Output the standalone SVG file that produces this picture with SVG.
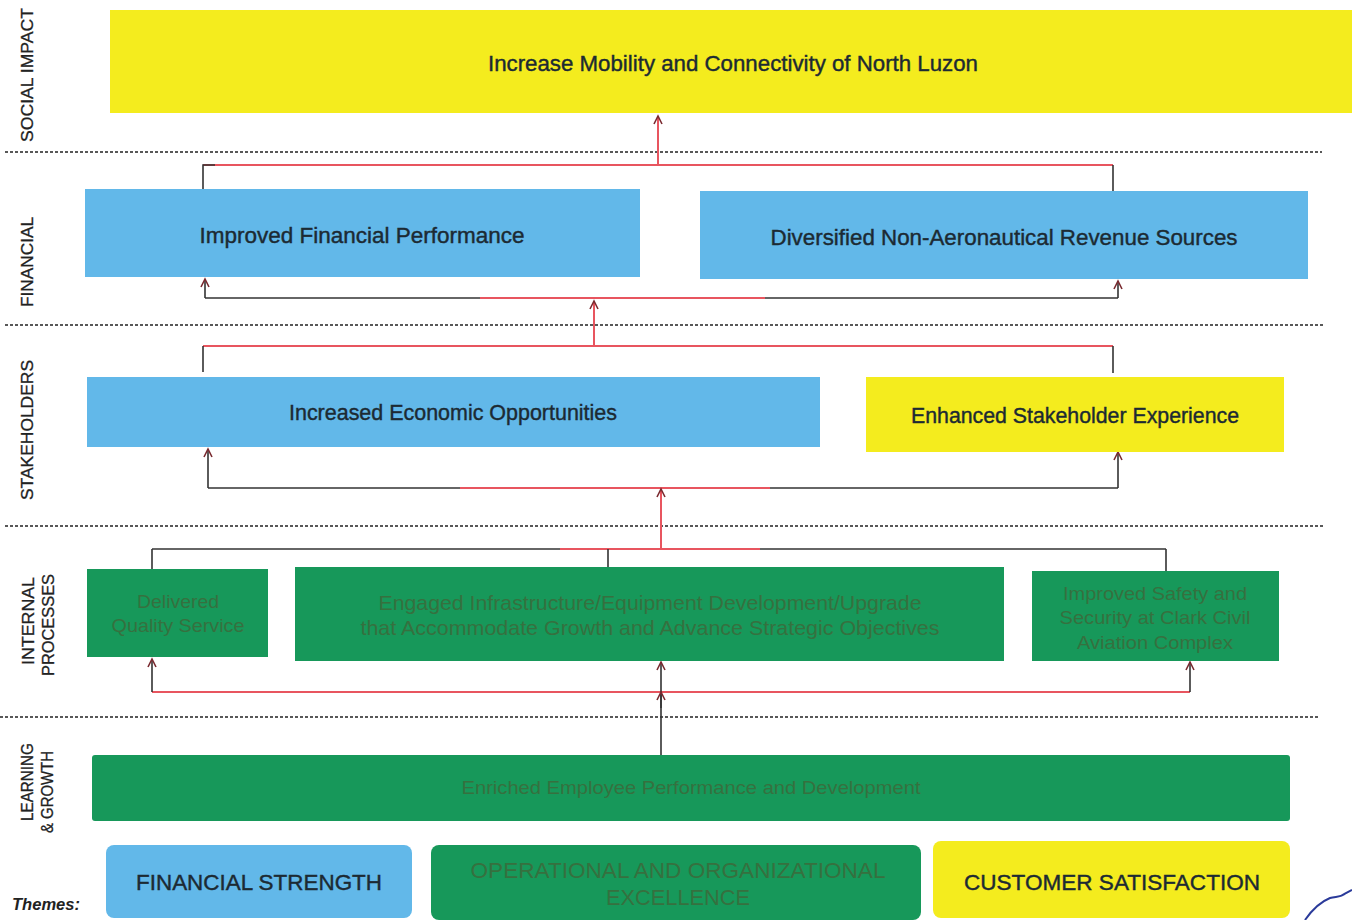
<svg xmlns="http://www.w3.org/2000/svg" width="1352" height="920" viewBox="0 0 1352 920">
<defs>
<marker id="arr" markerWidth="12" markerHeight="12" refX="10" refY="6" orient="auto" markerUnits="userSpaceOnUse" viewBox="0 0 12 12">
<path d="M2,2 L10,6 L2,10" fill="none" stroke="#7a2a30" stroke-width="1.6"/>
</marker>
<style>
.sep{stroke:#222;stroke-width:1.6;stroke-dasharray:3 2;fill:none}
.blk{stroke:#333;stroke-width:1.6;fill:none}
.red{stroke:#e8555f;stroke-width:2;fill:none}
.yel{fill:#f4ec1e}
.blu{fill:#62b8e9}
.grn{fill:#17985a}
.t{font-family:"Liberation Sans",Arial,sans-serif;font-size:22px;fill:#1c2a33;stroke:#1c2a33;stroke-width:0.4;text-anchor:middle}
.tg{font-family:"Liberation Sans",Arial,sans-serif;font-size:19px;fill:#36703f;text-anchor:middle}
.lab{font-family:"Liberation Sans",Arial,sans-serif;font-size:17px;fill:#222;stroke:#222;stroke-width:0.3;text-anchor:middle}
</style>
</defs>
<rect width="1352" height="920" fill="#fff"/>

<g id="separators">
<line class="sep" x1="5" y1="152" x2="1322" y2="152"/>
<line class="sep" x1="5" y1="325" x2="1325" y2="325"/>
<line class="sep" x1="5" y1="526" x2="1325" y2="526"/>
<line class="sep" x1="0" y1="717" x2="1320" y2="717"/>
</g>

<g id="perspective-labels">
<text class="lab" transform="translate(33,75) rotate(-90)" textLength="134" lengthAdjust="spacingAndGlyphs">SOCIAL IMPACT</text>
<text class="lab" transform="translate(33,262) rotate(-90)" textLength="90" lengthAdjust="spacingAndGlyphs">FINANCIAL</text>
<text class="lab" transform="translate(33,430) rotate(-90)" textLength="140" lengthAdjust="spacingAndGlyphs">STAKEHOLDERS</text>
<text class="lab" transform="translate(34,621) rotate(-90)" textLength="88" lengthAdjust="spacingAndGlyphs">INTERNAL</text>
<text class="lab" transform="translate(54,625) rotate(-90)" textLength="102" lengthAdjust="spacingAndGlyphs">PROCESSES</text>
<text class="lab" transform="translate(33,782) rotate(-90)" textLength="78" lengthAdjust="spacingAndGlyphs">LEARNING</text>
<text class="lab" transform="translate(53,792) rotate(-90)" textLength="82" lengthAdjust="spacingAndGlyphs">&amp; GROWTH</text>
</g>

<g id="connectors">
<line class="red" x1="203" y1="165" x2="1113" y2="165"/>
<polyline class="blk" points="203,189 203,165 215,165"/>
<polyline class="blk" points="1113,191 1113,165"/>
<line class="red" x1="658" y1="165" x2="658" y2="116" marker-end="url(#arr)"/>
<line class="blk" x1="205" y1="298" x2="1118" y2="298"/>
<line class="red" x1="480" y1="298" x2="765" y2="298"/>
<line class="blk" x1="205" y1="298" x2="205" y2="279" marker-end="url(#arr)"/>
<line class="blk" x1="1118" y1="298" x2="1118" y2="281" marker-end="url(#arr)"/>
<line class="red" x1="203" y1="346" x2="1113" y2="346"/>
<polyline class="blk" points="203,372 203,346"/>
<polyline class="blk" points="1113,373 1113,346"/>
<line class="red" x1="594" y1="346" x2="594" y2="301" marker-end="url(#arr)"/>
<line class="blk" x1="208" y1="488" x2="1118" y2="488"/>
<line class="red" x1="460" y1="488" x2="770" y2="488"/>
<line class="blk" x1="208" y1="488" x2="208" y2="449" marker-end="url(#arr)"/>
<line class="blk" x1="1118" y1="488" x2="1118" y2="452" marker-end="url(#arr)"/>
<line class="blk" x1="152" y1="549" x2="1166" y2="549"/>
<line class="red" x1="560" y1="549" x2="760" y2="549"/>
<line class="blk" x1="152" y1="549" x2="152" y2="569"/>
<line class="blk" x1="608" y1="549" x2="608" y2="567"/>
<line class="blk" x1="1166" y1="549" x2="1166" y2="571"/>
<line class="red" x1="661" y1="549" x2="661" y2="489" marker-end="url(#arr)"/>
<line class="red" x1="152" y1="692" x2="1190" y2="692"/>
<line class="blk" x1="152" y1="692" x2="152" y2="659" marker-end="url(#arr)"/>
<line class="blk" x1="1190" y1="692" x2="1190" y2="662" marker-end="url(#arr)"/>
<line class="blk" x1="661" y1="755" x2="661" y2="662" marker-end="url(#arr)"/>
<line class="blk" x1="661" y1="708" x2="661" y2="692" marker-end="url(#arr)"/>
</g>

<g id="social-impact">
<rect class="yel" x="110" y="10" width="1242" height="103"/>
<text class="t" x="733" y="71" textLength="490" lengthAdjust="spacingAndGlyphs">Increase Mobility and Connectivity of North Luzon</text>
</g>

<g id="improved-financial-performance">
<rect class="blu" x="85" y="189" width="555" height="88"/>
<text class="t" x="362" y="243" textLength="325" lengthAdjust="spacingAndGlyphs">Improved Financial Performance</text>
</g>
<g id="diversified-revenue">
<rect class="blu" x="700" y="191" width="608" height="88"/>
<text class="t" x="1004" y="245" textLength="467" lengthAdjust="spacingAndGlyphs">Diversified Non-Aeronautical Revenue Sources</text>
</g>

<g id="increased-economic-opportunities">
<rect class="blu" x="87" y="377" width="733" height="70"/>
<text class="t" x="453" y="420" textLength="328" lengthAdjust="spacingAndGlyphs">Increased Economic Opportunities</text>
</g>
<g id="enhanced-stakeholder-experience">
<rect class="yel" x="866" y="377" width="418" height="75"/>
<text class="t" x="1075" y="423" textLength="328" lengthAdjust="spacingAndGlyphs">Enhanced Stakeholder Experience</text>
</g>

<g id="delivered-quality-service">
<rect class="grn" x="87" y="569" width="181" height="88"/>
<text class="tg" x="178" y="608" textLength="82" lengthAdjust="spacingAndGlyphs">Delivered</text>
<text class="tg" x="178" y="632" textLength="133" lengthAdjust="spacingAndGlyphs">Quality Service</text>
</g>
<g id="engaged-infrastructure">
<rect class="grn" x="295" y="567" width="709" height="94"/>
<text class="tg" x="650" y="610" textLength="543" lengthAdjust="spacingAndGlyphs" style="font-size:21px">Engaged Infrastructure/Equipment Development/Upgrade</text>
<text class="tg" x="650" y="635" textLength="579" lengthAdjust="spacingAndGlyphs" style="font-size:21px">that Accommodate Growth and Advance Strategic Objectives</text>
</g>
<g id="improved-safety">
<rect class="grn" x="1032" y="571" width="247" height="90"/>
<text class="tg" x="1155" y="600" textLength="184" lengthAdjust="spacingAndGlyphs">Improved Safety and</text>
<text class="tg" x="1155" y="624" textLength="191" lengthAdjust="spacingAndGlyphs">Security at Clark Civil</text>
<text class="tg" x="1155" y="649" textLength="156" lengthAdjust="spacingAndGlyphs">Aviation Complex</text>
</g>

<g id="enriched-employee">
<rect class="grn" x="92" y="755" width="1198" height="66" rx="3"/>
<text class="tg" x="691" y="794" textLength="459" lengthAdjust="spacingAndGlyphs">Enriched Employee Performance and Development</text>
</g>

<g id="themes">
<text x="12" y="910" font-family="'Liberation Sans',Arial,sans-serif" font-size="16" font-style="italic" font-weight="bold" fill="#222" textLength="68" lengthAdjust="spacingAndGlyphs">Themes:</text>
</g>
<g id="theme-financial-strength">
<rect class="blu" x="106" y="845" width="306" height="73" rx="8"/>
<text class="t" x="259" y="890" textLength="246" lengthAdjust="spacingAndGlyphs">FINANCIAL STRENGTH</text>
</g>
<g id="theme-operational">
<rect class="grn" x="431" y="845" width="490" height="75" rx="8"/>
<text class="tg" x="678" y="878" textLength="415" lengthAdjust="spacingAndGlyphs" style="font-size:22px">OPERATIONAL AND ORGANIZATIONAL</text>
<text class="tg" x="678" y="905" textLength="144" lengthAdjust="spacingAndGlyphs" style="font-size:22px">EXCELLENCE</text>
</g>
<g id="theme-customer-satisfaction">
<rect class="yel" x="933" y="841" width="357" height="77" rx="8"/>
<text class="t" x="1112" y="890" textLength="296" lengthAdjust="spacingAndGlyphs">CUSTOMER SATISFACTION</text>
</g>

<path d="M1305,920 C1312,910 1320,902 1330,898 C1336,896 1340,898 1346,893 L1352,890" fill="none" stroke="#2a3a9a" stroke-width="2"/>
</svg>
